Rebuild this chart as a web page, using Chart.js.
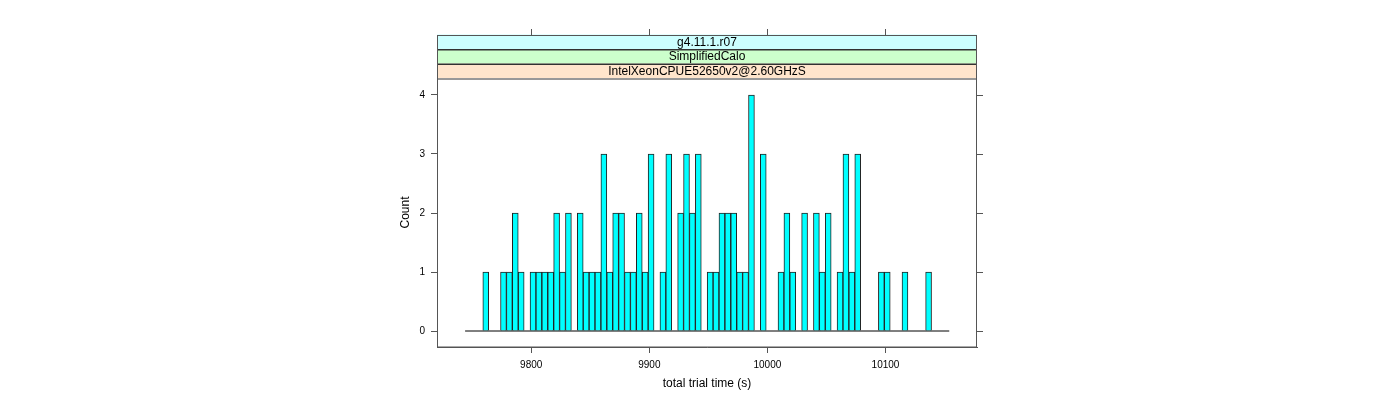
<!DOCTYPE html>
<html>
<head>
<meta charset="utf-8">
<script src="https://cdn.jsdelivr.net/npm/chart.js@4/dist/chart.umd.min.js"></script>
<style>
  html, body { margin: 0; padding: 0; background: #fff; }
  #wrap { width: 1400px; height: 400px; }
</style>
</head>
<body>
<div id="wrap"><canvas id="hist"></canvas></div>
<script>
// histogram bins: 5 s wide, starting at 9744 s
const binStart = 9744
const binWidth = 5
const counts = [
  0, 0, 0, 1, 0, 0, 1, 1, 2, 1,
  0, 1, 1, 1, 1, 2, 1, 2, 0, 2,
  1, 1, 1, 3, 1, 2, 2, 1, 1, 2,
  1, 3, 0, 1, 3, 0, 2, 3, 2, 3,
  0, 1, 1, 2, 2, 2, 1, 1, 4, 0,
  3, 0, 0, 1, 2, 1, 0, 2, 0, 2,
  1, 2, 0, 1, 3, 1, 3, 0, 0, 0,
  1, 1, 0, 0, 1, 0, 0, 0, 1, 0,
  0, 0,
]
const xTicks = [9800, 9900, 10000, 10100]
const yTicks = [0, 1, 2, 3, 4]
// strip labels, from the panel upwards
const stripLabels = ['IntelXeonCPUE52650v2@2.60GHzS', 'SimplifiedCalo', 'g4.11.1.r07']
const stripColors = ['#ffe5cc', '#ccffcc', '#ccffff']
const xTitle = 'total trial time (s)'
const yTitle = 'Count'
const xMin = 9720.2
const xMax = 10177.5
const yMin = -0.271
const yMax = 4.288

const FONT = '"Liberation Sans", Arial, sans-serif'
const LINE = '#555'

const barData = counts
  .map((c, i) => ({ x: binStart + binWidth * (i + 0.5), y: c }))
  .filter((d) => d.y > 0)
const baseline = [
  { x: binStart, y: 0 },
  { x: binStart + binWidth * counts.length, y: 0 },
]

const stripPlugin = {
  id: 'latticeFrame',
  afterDraw(chart) {
    const { ctx, chartArea, scales } = chart
    const { left, right, top, bottom } = chartArea
    const h = 14.5
    ctx.save()
    ctx.lineWidth = 1
    // strips
    stripLabels.forEach((label, i) => {
      const y0 = top - h * (i + 1)
      ctx.fillStyle = stripColors[i]
      ctx.fillRect(left, y0, right - left, h)
      ctx.strokeStyle = '#333'
      ctx.strokeRect(left + 0.5, Math.round(y0) + 0.5, right - left - 1, h)
      ctx.fillStyle = '#000'
      ctx.font = '12px ' + FONT
      ctx.textAlign = 'center'
      ctx.textBaseline = 'middle'
      ctx.fillText(label, (left + right) / 2, y0 + h / 2 + 0.5)
    })
    const stripTop = top - h * stripLabels.length
    // panel box
    ctx.strokeStyle = LINE
    ctx.strokeRect(left + 0.5, Math.round(stripTop) + 0.5, right - left - 1, bottom - stripTop - 1)
    // top and right ticks without labels
    ctx.beginPath()
    xTicks.forEach((v) => {
      const x = Math.round(scales.x.getPixelForValue(v)) + 0.5
      ctx.moveTo(x, Math.round(stripTop))
      ctx.lineTo(x, Math.round(stripTop) - 6)
    })
    yTicks.forEach((v) => {
      const y = Math.round(scales.y.getPixelForValue(v)) + 0.5
      ctx.moveTo(right, y)
      ctx.lineTo(right + 6, y)
    })
    ctx.stroke()
    ctx.restore()
  },
}

new Chart(document.getElementById('hist'), {
  type: 'bar',
  data: {
    datasets: [
      {
        type: 'line',
        data: baseline,
        borderColor: '#000',
        borderWidth: 1,
        pointRadius: 0,
        order: 0,
      },
      {
        data: barData,
        backgroundColor: '#00ffff',
        borderColor: '#222',
        borderWidth: 1,
        barPercentage: 1,
        categoryPercentage: 1,
        order: 1,
      },
    ],
  },
  options: {
    responsive: true,
    maintainAspectRatio: false,
    animation: false,
    layout: { padding: { left: 390, right: 423, top: 78, bottom: 0 } },
    plugins: { legend: { display: false }, tooltip: { enabled: false } },
    scales: {
      x: {
        type: 'linear',
        min: xMin,
        max: xMax,
        offset: false,
        grid: { drawOnChartArea: false, tickLength: 6, color: LINE, offset: false },
        border: { color: LINE },
        ticks: {
          font: { family: FONT, size: 10 },
          color: '#000',
          padding: 6,
          maxRotation: 0,
          callback: (v) => String(v),
        },
        afterBuildTicks: (s) => { s.ticks = xTicks.map((v) => ({ value: v })) },
        afterFit: (s) => { s.height = 53 },
        title: {
          display: true,
          text: xTitle,
          color: '#000',
          font: { family: FONT, size: 12 },
          padding: { top: 0, bottom: 9 },
        },
      },
      y: {
        min: yMin,
        max: yMax,
        grid: { drawOnChartArea: false, tickLength: 6, color: LINE },
        border: { color: LINE },
        ticks: { font: { family: FONT, size: 10 }, color: '#000', padding: 6, callback: (v) => String(v) },
        afterBuildTicks: (s) => { s.ticks = yTicks.map((v) => ({ value: v })) },
        afterFit: (s) => { s.width = 47 },
        title: {
          display: true,
          text: yTitle,
          color: '#000',
          font: { family: FONT, size: 12 },
          padding: { top: 8, bottom: 0 },
        },
      },
    },
  },
  plugins: [stripPlugin],
})
</script>
</body>
</html>
